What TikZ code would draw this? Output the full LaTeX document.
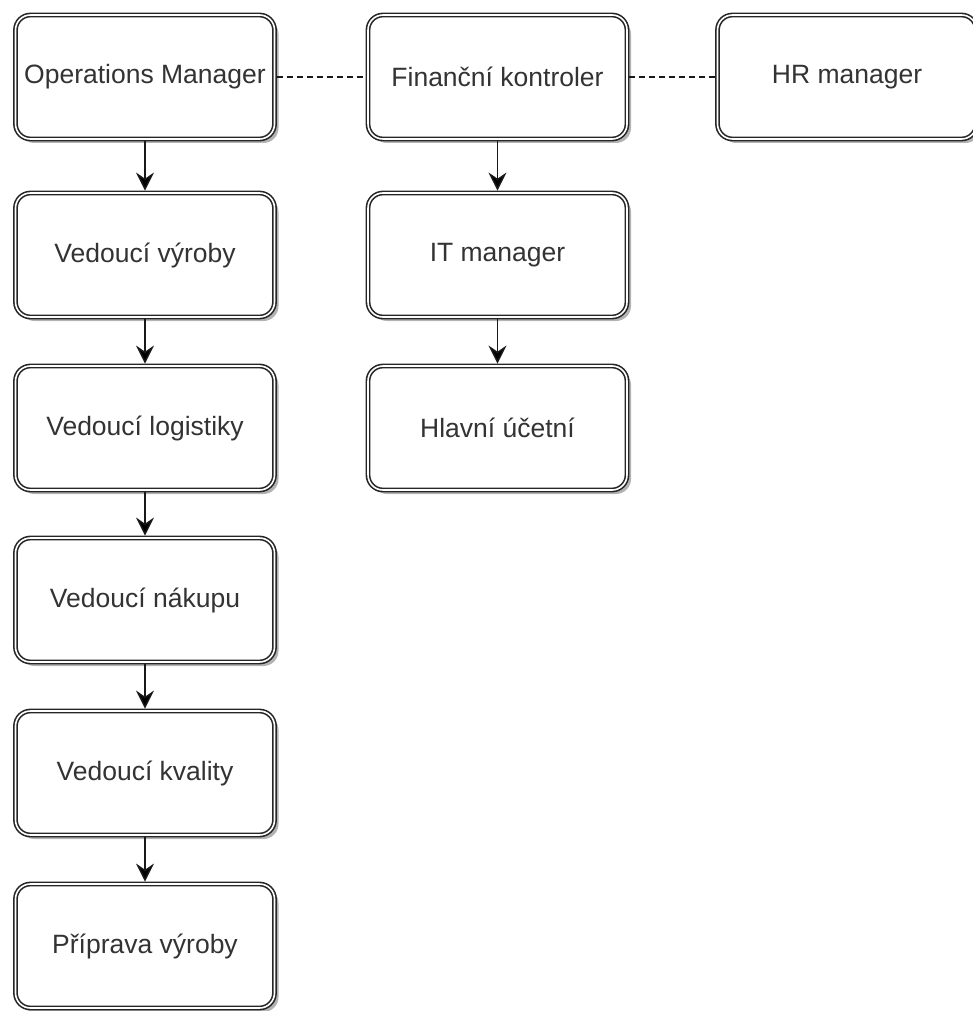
\documentclass[tikz,border=0pt]{standalone}
\usepackage{fontspec}
\setmainfont{Liberation Sans}
\usepackage{tikz}
\usetikzlibrary{calc}
\usetikzlibrary{shadows}
\usetikzlibrary{positioning}
\usetikzlibrary{arrows.meta}

\begin{document}
\begin{tikzpicture}[->,>={Stealth[length=18pt,width=18pt,inset=6pt]},x=1pt,y=1pt,
	  line width=1.5pt,
	  role node/.style={rectangle,rounded corners=15pt,draw=black!85,line width=1.6pt,
	    double=white,double distance=1.6pt,outer sep=2.4pt,fill=white,
	    minimum width=259pt,minimum height=124pt,text=black!80,
	    font=\fontsize{26.5}{31}\selectfont,
	    drop shadow={shadow xshift=4pt,shadow yshift=-4pt,fill=black!50,opacity=0.6}}]

	 \useasboundingbox (0,0) rectangle (973,-1011);

	 \node[role node] (ops) at (145,-77) {Operations Manager};
	 \node[role node] (fin) at ($ (ops) + (0:352.5) $) {Finanční kontroler};
	 \node[role node] (hr) at ($ (fin) + (0:349.5) $) {HR manager};
	 \node[role node] (vyr) at ($ (ops) + (270:178) $) {Vedoucí výroby};
	 \node[role node] (log) at ($ (vyr) + (270:173) $) {Vedoucí logistiky};
	 \node[role node] (nak) at ($ (log) + (270:172) $) {Vedoucí nákupu};
	 \node[role node] (kva) at ($ (nak) + (270:173) $) {Vedoucí kvality};
	 \node[role node] (pri) at ($ (kva) + (270:173) $) {Příprava výroby};
	 \node[role node] (it) at ($ (fin) + (270:178) $) {IT manager};
	 \node[role node] (uc) at ($ (it) + (270:173) $) {Hlavní účetní};

	 \path[draw=black!90]
	    (ops) edge  (vyr)
	    (vyr) edge  (log)
	    (log) edge  (nak)
	    (nak) edge  (kva)
	    (kva) edge  (pri)
	    (fin) edge  (it)
	    (it)  edge  (uc)
	    (ops) edge[-,dash pattern=on 6pt off 4pt] (fin)
	    (fin) edge[-,dash pattern=on 6pt off 4pt] (hr)
;
	\end{tikzpicture}
\end{document}
